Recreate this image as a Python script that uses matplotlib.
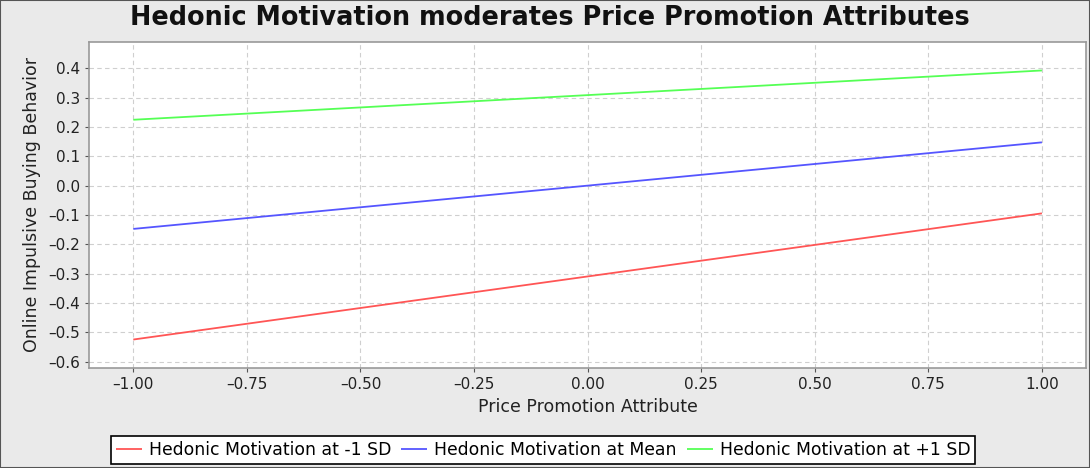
import matplotlib.pyplot as plt
from matplotlib.patches import Rectangle

# simple slopes at -1 / 0 / +1 on the moderator
x_points = [-1.0, 1.0]
low_sd = [-0.524, -0.094]
mean_line = [-0.147, 0.148]
high_sd = [0.225, 0.393]

series_labels = [
    "Hedonic Motivation at -1 SD",
    "Hedonic Motivation at Mean",
    "Hedonic Motivation at +1 SD",
]
series_colors = ["#ff5555", "#5555ff", "#55ff55"]

x_ticks = [-1.0, -0.75, -0.5, -0.25, 0.0, 0.25, 0.5, 0.75, 1.0]
y_ticks = [0.4, 0.3, 0.2, 0.1, 0.0, -0.1, -0.2, -0.3, -0.4, -0.5, -0.6]

plt.rcParams["font.family"] = ["DejaVu Sans"]

fig = plt.figure(figsize=(10.9, 4.68), dpi=100, facecolor="#eaeaea")
ax = fig.add_axes([89 / 1090, 1 - 368 / 468, (1086 - 89) / 1090, (368 - 42) / 468])
ax.set_facecolor("white")

for values, label, color in zip([low_sd, mean_line, high_sd], series_labels, series_colors):
    ax.plot(x_points, values, color=color, lw=1.3, label=label, solid_capstyle="butt")

ax.set_xlim(-1.0975, 1.097)
ax.set_ylim(-0.621, 0.49)
ax.set_xticks(x_ticks)
ax.set_xticklabels([f"{t:.2f}".replace("-", "\u2013") for t in x_ticks])
ax.set_yticks(y_ticks)
ax.set_yticklabels([f"{t:.1f}".replace("-", "\u2013") for t in y_ticks])
ax.tick_params(labelsize=11, colors="#555555", labelcolor="#222222", length=3, width=0.8)
ax.grid(True, color="#cfcfcf", linestyle=(0, (4, 3)), linewidth=0.8)
for spine in ax.spines.values():
    spine.set_color("#999999")
    spine.set_linewidth(1.2)

ax.set_xlabel("Price Promotion Attribute", fontsize=12.5, color="#222222", labelpad=4)
ax.set_ylabel("Online Impulsive Buying Behavior", fontsize=12.5, color="#222222", labelpad=5)
fig.text(550 / 1090, 1 - 18 / 468, "Hedonic Motivation moderates Price Promotion Attributes",
         ha="center", va="center", fontsize=18.4, fontweight="bold", color="#111111")

leg = fig.legend(loc="center", bbox_to_anchor=(543 / 1090, 1 - 450 / 468), ncol=3,
                 fontsize=12.4, frameon=True, fancybox=False, handlelength=1.5,
                 handletextpad=0.4, columnspacing=0.6, borderpad=0.3)
leg.get_frame().set_edgecolor("black")
leg.get_frame().set_linewidth(1.2)
leg.get_frame().set_facecolor("white")
leg.get_frame().set_alpha(1)

fig.patches.append(Rectangle((0, 0), 1, 1, transform=fig.transFigure, fill=False,
                             edgecolor="#555555", linewidth=1.5))

fig.savefig("out.png", dpi=100, facecolor=fig.get_facecolor())
